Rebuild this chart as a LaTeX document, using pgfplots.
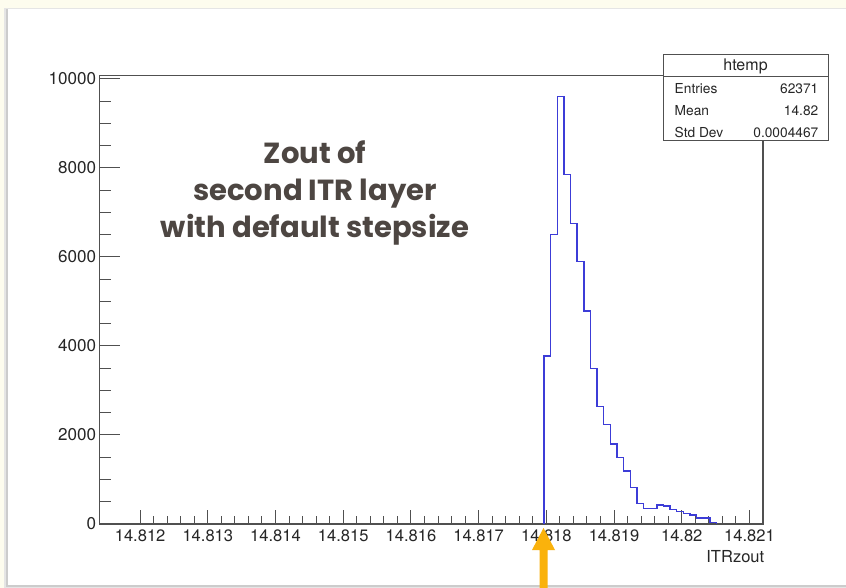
\documentclass[border=0pt]{standalone}
\usepackage{fontspec}
\setmainfont{TeX Gyre Heros}
\newfontfamily\titlefont{Poppins}
\usepackage{pgfplots}
\pgfplotsset{compat=1.18}
\definecolor{cream}{RGB}{253,252,238}
\definecolor{histblue}{RGB}{60,60,215}
\definecolor{axgray}{RGB}{80,80,80}
\definecolor{titlegray}{RGB}{77,70,66}
\definecolor{arroworange}{RGB}{250,178,12}

% ITRzout histogram, x stored as (ITRzout - 14.81) * 1000, bin width 0.000098
\pgfplotstableread{
x y
7.966 0
7.966 3780
8.064 6500
8.162 9600
8.260 7850
8.358 6750
8.456 5900
8.554 4790
8.652 3500
8.750 2640
8.848 2230
8.946 1800
9.044 1500
9.142 1190
9.240 820
9.338 460
9.436 350
9.534 350
9.632 425
9.730 400
9.828 330
9.926 280
10.024 240
10.122 200
10.220 130
10.318 130
10.416 30
10.514 0
}\histdata

\begin{document}
\begin{tikzpicture}
\begin{scope}[x=0.75pt,y=-0.75pt]
\useasboundingbox (0,0) rectangle (846,588);
\fill[cream] (0,0) rectangle (846,588);
\fill[black!10] (4,8) rectangle (846,588);
\fill[black!20] (6,9) rectangle (846,587);
\fill[white] (8,9) rectangle (846,585);
\end{scope}

\begin{axis}[
 at={(74.625pt,-393pt)}, anchor=south west,
 scale only axis, width=497.625pt, height=336.45pt,
 xmin=1.4, xmax=11.2, ymin=0, ymax=10080,
 xtick={2,3,4,5,6,7,8,9,10,11},
 xticklabels={14.812,14.813,14.814,14.815,14.816,14.817,14.818,14.819,14.82,14.821},
 ytick=\empty,
 minor x tick num=4,
 tick pos=left, tick align=inside,
 major tick length=10.3pt, minor tick length=5.8pt,
 axis line style={axgray, line width=0.8pt},
 every tick/.style={axgray, line width=0.75pt},
 /pgf/number format/assume math mode=true,
 xticklabel style={font=\fontsize{12.4}{14}\selectfont, text=black!85, yshift=-1pt},
 xlabel={ITRzout},
 xlabel style={font=\fontsize{12.4}{14}\selectfont, text=black!85, at={(axis description cs:1.009,-0.072)}, anchor=east},
]
\addplot[const plot mark left, histblue, line width=1.1pt] table[x=x,y=y] {\histdata};
\end{axis}

\begin{axis}[
 at={(74.625pt,-393pt)}, anchor=south west,
 scale only axis, width=497.625pt, height=336.45pt,
 xmin=1.4, xmax=11.2, ymin=0, ymax=10080,
 xtick=\empty,
 ytick={0,2000,4000,6000,8000,10000},
 yticklabels={0,2000,4000,6000,8000,10000},
 scaled y ticks=false,
 minor y tick num=3,
 tick pos=left, tick align=inside,
 major tick length=15pt, minor tick length=8.25pt,
 axis line style={draw=none},
 every tick/.style={axgray, line width=0.75pt},
 /pgf/number format/assume math mode=true,
 yticklabel style={font=\fontsize{12.8}{14}\selectfont, text=black!85, xshift=1pt},
]
\addplot[draw=none, forget plot] coordinates {(5,0)};
\end{axis}

\begin{scope}[x=0.75pt,y=-0.75pt]
% stats box
\fill[white] (663,55) rectangle (828,141);
\draw[axgray, line width=0.75pt] (663,55) rectangle (828,141);
\draw[axgray, line width=0.75pt] (663,76.5) -- (828,76.5);
\node[font=\fontsize{12}{14}\selectfont, text=black!85] at (745.5,66) {htemp};
\node[font=\fontsize{10.3}{12}\selectfont, text=black!85, anchor=west] at (670,88.5) {Entries};
\node[font=\fontsize{10.3}{12}\selectfont, text=black!85, anchor=west] at (670,110.5) {Mean};
\node[font=\fontsize{10.3}{12}\selectfont, text=black!85, anchor=west] at (670,132.5) {Std Dev};
\node[font=\fontsize{10.3}{12}\selectfont, text=black!85, anchor=east] at (823,88.5) {62371};
\node[font=\fontsize{10.3}{12}\selectfont, text=black!85, anchor=east] at (823,110.5) {14.82};
\node[font=\fontsize{10.3}{12}\selectfont, text=black!85, anchor=east] at (823,132.5) {0.0004467};
% annotation text
\node[font=\titlefont\bfseries\fontsize{21.8}{28}\selectfont, text=titlegray, align=center] at (315,193) {Zout of\\second ITR layer\\with default stepsize};
% arrow
\fill[arroworange] (539.5,588) -- (539.5,550) -- (532,550) -- (543.5,528) -- (555,550) -- (547.5,550) -- (547.5,588) -- cycle;
\end{scope}
\end{tikzpicture}
\end{document}
